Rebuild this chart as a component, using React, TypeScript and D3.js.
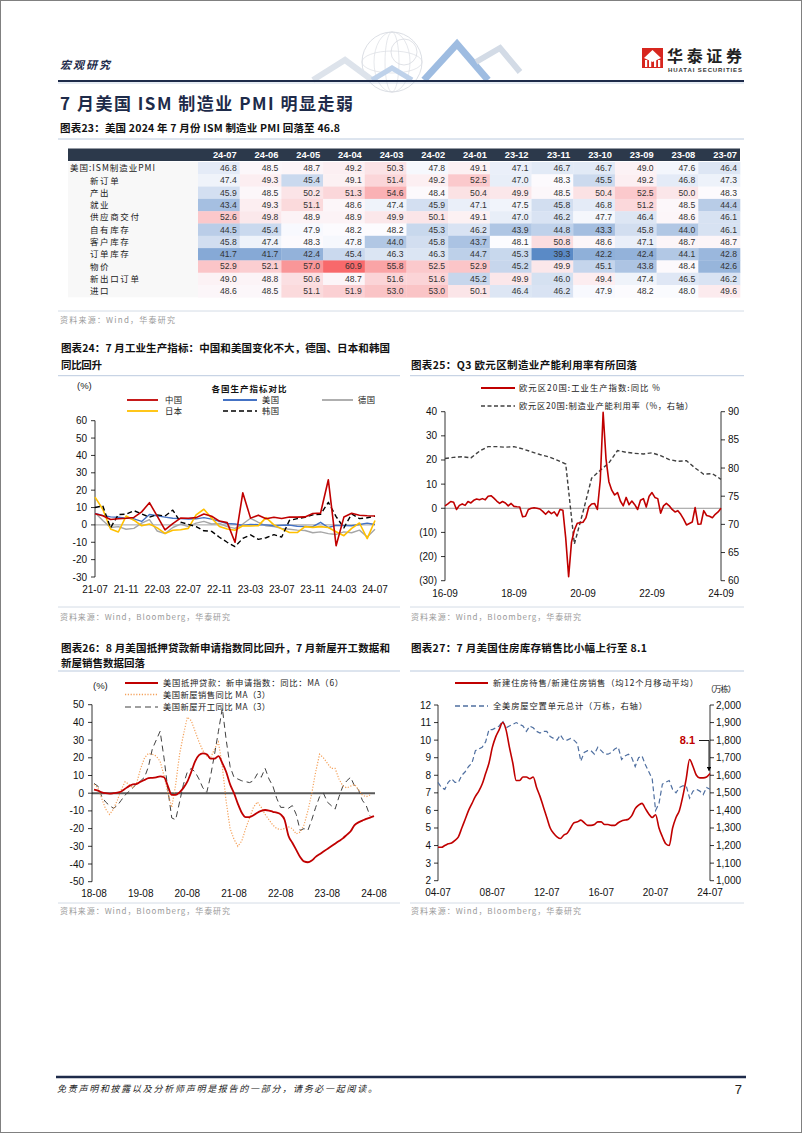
import React from "react";
import * as d3 from "d3";

const CJK = "'Noto Sans CJK SC', 'Noto Sans', sans-serif";
const SANS = "'Liberation Sans', Arial, sans-serif";
const NAVY = "#1E2B4A";
const SRC = "#9A9A9A";

// ---------- Table (Fig 23) ----------
const tableCols = ["24-07", "24-06", "24-05", "24-04", "24-03", "24-02", "24-01", "23-12", "23-11", "23-10", "23-09", "23-08", "23-07"];
const rowLabels = ["美国:ISM制造业PMI", "新订单", "产出", "就业", "供应商交付", "自有库存", "客户库存", "订单库存", "物价", "新出口订单", "进口"];
const rowPMI = [46.8, 48.5, 48.7, 49.2, 50.3, 47.8, 49.1, 47.1, 46.7, 46.7, 49.0, 47.6, 46.4];
const rowNewOrders = [47.4, 49.3, 45.4, 49.1, 51.4, 49.2, 52.5, 47.0, 48.3, 45.5, 49.2, 46.8, 47.3];
const rowOutput = [45.9, 48.5, 50.2, 51.3, 54.6, 48.4, 50.4, 49.9, 48.5, 50.4, 52.5, 50.0, 48.3];
const rowEmployment = [43.4, 49.3, 51.1, 48.6, 47.4, 45.9, 47.1, 47.5, 45.8, 46.8, 51.2, 48.5, 44.4];
const rowDeliveries = [52.6, 49.8, 48.9, 48.9, 49.9, 50.1, 49.1, 47.0, 46.2, 47.7, 46.4, 48.6, 46.1];
const rowInventories = [44.5, 45.4, 47.9, 48.2, 48.2, 45.3, 46.2, 43.9, 44.8, 43.3, 45.8, 44.0, 46.1];
const rowCustInv = [45.8, 47.4, 48.3, 47.8, 44.0, 45.8, 43.7, 48.1, 50.8, 48.6, 47.1, 48.7, 48.7];
const rowBacklog = [41.7, 41.7, 42.4, 45.4, 46.3, 46.3, 44.7, 45.3, 39.3, 42.2, 42.4, 44.1, 42.8];
const rowPrices = [52.9, 52.1, 57.0, 60.9, 55.8, 52.5, 52.9, 45.2, 49.9, 45.1, 43.8, 48.4, 42.6];
const rowExports = [49.0, 48.8, 50.6, 48.7, 51.6, 51.6, 45.2, 49.9, 46.0, 49.4, 47.4, 46.5, 46.2];
const rowImports = [48.6, 48.5, 51.1, 51.9, 53.0, 53.0, 50.1, 46.4, 46.2, 47.9, 48.2, 48.0, 49.6];
const tableRows = [rowPMI, rowNewOrders, rowOutput, rowEmployment, rowDeliveries, rowInventories, rowCustInv, rowBacklog, rowPrices, rowExports, rowImports];

// ---------- Fig 24 ----------
const xTicks24 = ["21-07", "21-11", "22-03", "22-07", "22-11", "23-03", "23-07", "23-11", "24-03", "24-07"];
const yTicks24 = [60, 50, 40, 30, 20, 10, 0, -10, -20, -30];
const china24 = [6.4, 5.3, 3.1, 3.5, 3.8, 4.3, 7.5, 12.8, 5.0, -2.9, 0.7, 3.9, 3.8, 4.2, 6.3, 5.0, 2.2, 1.3, -10.0, 18.5, 3.9, 5.6, 3.5, 4.4, 3.7, 4.5, 4.5, 4.6, 6.6, 6.8, 26.0, -12.0, 4.5, 6.7, 5.6, 5.3, 5.1];
const usa24 = [6.6, 5.5, 4.6, 4.4, 3.9, 3.5, 2.0, 6.0, 5.3, 4.5, 3.8, 3.6, 3.4, 3.5, 4.2, 3.3, 2.0, 0.8, 0.5, -0.3, 0.3, 0.1, 0.0, -0.5, -0.2, -0.1, -0.8, -0.9, -1.0, 1.5, -1.5, -0.3, -0.4, -0.5, 0.2, 1.0, 0.2];
const germany24 = [7.0, 2.5, -1.5, -1.0, -2.5, -2.0, 1.0, 3.0, -3.5, -5.0, -1.5, 0.5, -1.0, 1.0, 2.0, 0.5, 0.8, -1.0, -2.0, 0.5, 3.8, 1.5, -0.5, -1.0, -2.0, -2.5, -3.0, -3.2, -4.5, -4.0, -5.0, -5.5, -4.0, -4.5, -3.0, -7.0, -2.5];
const japan24 = [16.0, 9.0, -2.3, -4.1, 5.1, 2.7, -0.5, 0.5, -1.7, -4.9, -3.1, -2.8, -2.0, 5.8, 9.0, 3.8, -0.9, -2.4, -3.1, -0.5, -0.6, -0.4, 4.2, 0.0, -2.3, -4.4, -4.4, -1.0, -1.4, -1.0, -1.5, -3.9, -6.2, -2.0, 1.1, -7.9, 2.5];
const korea24 = [10.0, 11.0, -1.7, 6.0, 6.2, 8.2, 6.3, 4.5, 5.8, 5.1, 8.5, 1.6, 0.3, -1.0, -3.4, -3.7, -7.1, -10.0, -12.5, -7.8, -5.8, -8.3, -7.4, -5.6, -7.0, 2.6, 3.6, 4.4, 5.8, 6.1, 13.0, 4.8, -1.7, 6.3, 3.6, 4.1, 5.0];

// ---------- Fig 25 ----------
const xTicks25 = ["16-09", "18-09", "20-09", "22-09", "24-09"];
const leftTicks25 = [40, 30, 20, 10, 0, -10, -20, -30];
const rightTicks25 = [90, 85, 80, 75, 70, 65, 60];
const ezIP25 = [1.0, 1.8, 2.8, 2.5, -0.5, 1.2, 1.8, 1.2, 2.8, 2.2, 3.3, 3.8, 3.5, 4.0, 3.5, 5.0, 5.2, 4.2, 3.0, 2.0, 2.8, 2.2, 1.0, 2.0, 0.8, 0.6, 0.5, -3.5, -3.3, -0.5, 0.0, 0.2, 0.0, -0.3, -1.3, -2.5, -1.2, -2.2, -1.5, -3.2, -0.5, -0.8, -12.5, -28.3, -14.0, -9.0, -6.2, -6.0, -5.8, -4.0, 0.5, 1.8, 2.0, -0.5, 11.5, 39.7, 20.5, 11.0, 7.5, 5.5, 6.5, 3.0, 1.0, 4.5, 1.5, 3.0, 1.5, -0.5, 3.3, 4.0, 0.5, 5.0, 6.5, 4.5, 4.0, -2.0, 1.0, 2.0, 1.0, -0.5, -1.5, -1.0, -2.5, -4.5, -6.9, -6.3, -5.7, 0.3, -6.6, -6.5, -1.0, -3.0, -3.3, -3.9, -2.5, -1.5, 0.0];
const ezCU25 = [81.7, 81.9, 82.0, 81.8, 83.0, 83.8, 83.8, 83.7, 83.8, 83.4, 82.9, 82.4, 82.0, 81.4, 80.7, 66.5, 72.2, 78.2, 79.6, 80.9, 83.1, 82.8, 82.6, 82.5, 82.7, 82.2, 81.5, 81.2, 81.3, 80.0, 78.9, 79.0, 78.0];

// ---------- Fig 26 ----------
const xTicks26 = ["18-08", "19-08", "20-08", "21-08", "22-08", "23-08", "24-08"];
const yTicks26 = [50, 40, 30, 20, 10, 0, -10, -20, -30, -40, -50];
const mortgage26 = [2.0, 1.5, 0.5, 0.0, -0.2, 0.0, 0.3, 1.0, 2.5, 4.0, 5.0, 5.3, 6.5, 7.5, 8.5, 8.7, 9.0, 9.5, 9.0, 4.0, -1.0, -1.0, 0.5, 3.0, 6.5, 12.0, 18.0, 21.5, 22.5, 22.0, 19.5, 19.5, 21.0, 17.0, 12.0, 5.0, 0.0, -6.0, -11.0, -13.5, -13.5, -12.5, -11.0, -10.0, -9.5, -9.8, -10.5, -11.0, -12.0, -15.0, -24.0, -28.0, -32.0, -36.0, -38.5, -39.0, -38.0, -36.0, -34.5, -33.0, -31.5, -30.0, -28.5, -27.0, -25.5, -23.5, -21.5, -18.0, -16.5, -15.5, -14.5, -13.8, -13.0];
const homeSales26 = [5, 3, -3, -9, -12, -9, -4, 2, 6.5, 5, 3, 6, 14, 20, 22.5, 22, 21, 18, 10, 0, -8, 5, 22, 33, 43, 41, 35, 29, 24, 21, 20, 25, 29, 15, -5, -20, -26, -30, -27, -20, -14, -8, -5, -8, -12, -15, -18, -20, -20.5, -20, -19, -20, -23, -22, -18, -10, 0, 12, 22, 20, 17, 14, 14, 8, 4, 3, 4, 5, 2, -1, -2, -1];
const starts26 = [5.5, 4, -2, -5, -7, -8.5, -7, -4, -1, 1, 3, 5.5, 7, 9, 15, 25, 30, 35, 20, 2, -14, -15, -5, 5, 12, 14, 12, 8, 3, 0.5, 10, 22, 35, 48, 30, 15, 9, 8, 7, 6.5, 6, 7, 11, 9, 14, 8, 4, -3, -8, -8, -8.5, -7, -12, -21, -20, -21, -15, -8, -2, 0, -5, -7, -9, -2, 4, 7, 9, 4, 2, -4, -7, -13];

// ---------- Fig 27 ----------
const xTicks27 = ["04-07", "08-07", "12-07", "16-07", "20-07", "24-07"];
const leftTicks27 = [12, 11, 10, 9, 8, 7, 6, 5, 4, 3, 2];
const rightTicks27 = [2000, 1900, 1800, 1700, 1600, 1500, 1400, 1300, 1200, 1100, 1000];
const ratio27 = [3.9, 3.9, 4.0, 4.1, 4.15, 4.3, 4.5, 5.0, 5.5, 6.0, 6.4, 6.8, 7.1, 7.5, 8.1, 8.7, 9.6, 10.2, 10.6, 11.0, 10.6, 9.6, 8.7, 7.7, 7.7, 7.9, 7.9, 7.8, 7.9, 7.3, 6.8, 6.2, 5.6, 5.0, 4.7, 4.5, 4.4, 4.6, 4.7, 5.0, 5.3, 5.35, 5.45, 5.3, 5.15, 5.15, 5.2, 5.35, 5.35, 5.2, 5.2, 5.15, 5.15, 5.3, 5.4, 5.45, 5.5, 5.7, 6.1, 6.3, 6.4, 6.1, 5.8, 5.6, 5.75, 5.0, 4.5, 4.1, 4.0, 5.0, 5.6, 6.0, 6.8, 7.8, 8.9, 8.5, 8.0, 7.85, 7.85, 7.9, 8.1];
const vacant27 = [1560, 1530, 1520, 1560, 1580, 1560, 1560, 1600, 1620, 1650, 1670, 1740, 1750, 1760, 1790, 1860, 1860, 1870, 1880, 1910, 1870, 1880, 1890, 1900, 1890, 1880, 1850, 1880, 1870, 1850, 1840, 1850, 1850, 1820, 1810, 1800, 1830, 1800, 1800, 1810, 1800, 1780, 1680, 1730, 1740, 1740, 1720, 1760, 1740, 1720, 1720, 1730, 1750, 1760, 1690, 1710, 1720, 1700, 1650, 1700, 1710, 1660, 1620, 1580, 1400, 1440, 1550, 1560, 1570, 1520, 1500, 1530, 1540, 1540, 1470, 1510, 1520, 1510, 1490, 1530, 1520];

function paren(v: number) {
  return v < 0 ? `(${-v})` : `${v}`;
}

function Title({ x, y, text, w }: { x: number; y: number; text: string; w: number }) {
  return (
    <text x={x} y={y} fontFamily={CJK} fontWeight={700} fontSize={10.5} fill="#111" textLength={w} lengthAdjust="spacing">
      {text}
    </text>
  );
}

function Source({ x, y, text, w }: { x: number; y: number; text: string; w: number }) {
  return (
    <text x={x} y={y} fontFamily={CJK} fontSize={8} fill={SRC} textLength={w} lengthAdjust="spacing">
      {text}
    </text>
  );
}

function Legend({ x, y, text, w }: { x: number; y: number; text: string; w: number }) {
  return (
    <text x={x} y={y} fontFamily={CJK} fontSize={8.3} fill="#222" textLength={w} lengthAdjust="spacing">
      {text}
    </text>
  );
}

function Table() {
  const left = 68, labelW = 130, right = 740;
  const colW = (right - left - labelW) / tableCols.length;
  const hdrTop = 148.5, hdrH = 12.5, rowTop = 162, rowH = 12.3;
  const all = tableRows.flat();
  const ext = d3.extent(all) as [number, number];
  const med = d3.median(all) as number;
  const color = d3.scaleLinear<string>().domain([ext[0], med, ext[1]]).range(["#5A8AC6", "#FCFCFF", "#F8696B"]).interpolate(d3.interpolateRgb);
  const cx = d3.scaleBand<number>().domain(d3.range(tableCols.length)).range([left + labelW, right]).padding(0);
  return (
    <g>
      <rect x={left} y={hdrTop} width={right - left} height={hdrH} fill="#2C394B" />
      {tableCols.map((c, i) => (
        <text key={c} x={(cx(i) as number) + colW - 3} y={hdrTop + 9.6} textAnchor="end" fontFamily={SANS} fontWeight={700} fontSize={9.3} fill="#fff">
          {c}
        </text>
      ))}
      <rect x={left} y={rowTop} width={labelW} height={rowH * rowLabels.length} fill="#F8F8F8" />
      {tableRows.map((row, r) => (
        <g key={r}>
          {row.map((v, i) => (
            <rect key={i} x={cx(i) as number} y={rowTop + r * rowH} width={colW + 0.3} height={rowH + 0.3} fill={color(v)} />
          ))}
          {row.map((v, i) => (
            <text key={"t" + i} x={(cx(i) as number) + colW - 3} y={rowTop + r * rowH + 9} textAnchor="end" fontFamily={SANS} fontSize={8.6} fill="#333">
              {v.toFixed(1)}
            </text>
          ))}
          {r === 0 ? (
            <text x={70} y={rowTop + 9.2} fontFamily={CJK} fontSize={8.5} fill="#222" textLength={85} lengthAdjust="spacing">
              {rowLabels[r]}
            </text>
          ) : (
            <text x={90} y={rowTop + r * rowH + 9.2} fontFamily={CJK} fontSize={8.5} fill="#222" letterSpacing={1.6}>
              {rowLabels[r]}
            </text>
          )}
        </g>
      ))}
    </g>
  );
}

function Chart24() {
  const x = d3.scaleLinear().domain([0, china24.length - 1]).range([95, 375]);
  const y = d3.scaleLinear().domain([-30, 60]).range([577, 420.7]);
  const line = d3.line<number>().x((_, i) => x(i)).y((d) => y(d));
  const series = [
    { data: germany24, color: "#A6A6A6", w: 1.4, dash: undefined as string | undefined },
    { data: usa24, color: "#4472C4", w: 1.4, dash: undefined },
    { data: japan24, color: "#FFC000", w: 1.6, dash: undefined },
    { data: korea24, color: "#000", w: 1.4, dash: "5,3" },
    { data: china24, color: "#C00000", w: 1.6, dash: undefined },
  ];
  return (
    <g>
      <text x={77} y={389} fontFamily={SANS} fontSize={9.5} fill="#222">(%)</text>
      <text x={249} y={392} textAnchor="middle" fontFamily={CJK} fontWeight={700} fontSize={8.5} fill="#111" textLength={75} lengthAdjust="spacing">各国生产指标对比</text>
      <line x1={127} x2={158} y1={400} y2={400} stroke="#C00000" strokeWidth={1.8} />
      <Legend x={165} y={403} text="中国" w={17} />
      <line x1={223} x2={257} y1={400} y2={400} stroke="#4472C4" strokeWidth={1.8} />
      <Legend x={262} y={403} text="美国" w={17} />
      <line x1={322} x2={353} y1={400} y2={400} stroke="#A6A6A6" strokeWidth={1.8} />
      <Legend x={358} y={403} text="德国" w={17} />
      <line x1={127} x2={158} y1={411} y2={411} stroke="#FFC000" strokeWidth={1.8} />
      <Legend x={165} y={414} text="日本" w={17} />
      <line x1={223} x2={257} y1={411} y2={411} stroke="#000" strokeWidth={1.6} strokeDasharray="5,3" />
      <Legend x={262} y={414} text="韩国" w={17} />
      <line x1={95} x2={375} y1={y(0)} y2={y(0)} stroke="#A0A0A0" strokeWidth={1} />
      <line x1={95} x2={95} y1={y(60)} y2={y(-30)} stroke="#000" strokeWidth={0.8} />
      {yTicks24.map((t) => (
        <g key={t}>
          <line x1={91} x2={95} y1={y(t)} y2={y(t)} stroke="#000" strokeWidth={0.8} />
          <text x={87} y={y(t) + 3.5} textAnchor="end" fontFamily={SANS} fontSize={10} fill="#111">{t}</text>
        </g>
      ))}
      {xTicks24.map((t, k) => (
        <text key={t} x={x(k * 4)} y={593} textAnchor="middle" fontFamily={SANS} fontSize={10} fill="#111">{t}</text>
      ))}
      {series.map((s, i) => (
        <path key={i} d={line(s.data) as string} fill="none" stroke={s.color} strokeWidth={s.w} strokeDasharray={s.dash} strokeLinejoin="round" />
      ))}
    </g>
  );
}

function Chart25() {
  const x = d3.scaleLinear().domain([0, 96]).range([445, 721]);
  const yL = d3.scaleLinear().domain([-30, 40]).range([580.7, 411.7]);
  const yR = d3.scaleLinear().domain([60, 90]).range([580.7, 411.7]);
  const redLine = d3.line<number>().x((_, i) => x(i)).y((d) => yL(d));
  const dashLine = d3.line<number>().x((_, i) => x(i * 3)).y((d) => yR(d));
  return (
    <g>
      <line x1={481} x2={515} y1={388} y2={388} stroke="#C00000" strokeWidth={1.8} />
      <Legend x={519} y={391} text="欧元区20国:工业生产指数:同比 %" w={141} />
      <line x1={481} x2={515} y1={406} y2={406} stroke="#404040" strokeWidth={1.4} strokeDasharray="4,2.5" />
      <Legend x={519} y={409} text="欧元区20国:制造业产能利用率（%，右轴）" w={174} />
      <line x1={445} x2={721} y1={yL(0)} y2={yL(0)} stroke="#808080" strokeWidth={0.8} />
      <line x1={445} x2={445} y1={yL(40)} y2={yL(-30)} stroke="#000" strokeWidth={0.8} />
      <line x1={721} x2={721} y1={yR(90)} y2={yR(60)} stroke="#000" strokeWidth={0.8} />
      {leftTicks25.map((t) => (
        <g key={t}>
          <line x1={441} x2={445} y1={yL(t)} y2={yL(t)} stroke="#000" strokeWidth={0.8} />
          <text x={437} y={yL(t) + 3.5} textAnchor="end" fontFamily={SANS} fontSize={10} fill="#111">{paren(t)}</text>
        </g>
      ))}
      {rightTicks25.map((t) => (
        <g key={t}>
          <line x1={721} x2={725} y1={yR(t)} y2={yR(t)} stroke="#000" strokeWidth={0.8} />
          <text x={728} y={yR(t) + 3.5} fontFamily={SANS} fontSize={10} fill="#111">{t}</text>
        </g>
      ))}
      {xTicks25.map((t, k) => (
        <text key={t} x={x(k * 24)} y={597} textAnchor="middle" fontFamily={SANS} fontSize={10} fill="#111">{t}</text>
      ))}
      <path d={dashLine(ezCU25) as string} fill="none" stroke="#404040" strokeWidth={1.4} strokeDasharray="4,2.5" />
      <path d={redLine(ezIP25) as string} fill="none" stroke="#C00000" strokeWidth={1.6} strokeLinejoin="round" />
    </g>
  );
}

function Chart26() {
  const x = d3.scaleLinear().domain([0, 72]).range([94, 374]);
  const y = d3.scaleLinear().domain([-50, 50]).range([881.7, 704.7]);
  const line = d3.line<number>().x((_, i) => x(i)).y((d) => y(d)).curve(d3.curveMonotoneX);
  const lineStraight = d3.line<number>().x((_, i) => x(i)).y((d) => y(d));
  return (
    <g>
      <text x={93} y={689} fontFamily={SANS} fontSize={9.5} fill="#222">(%)</text>
      <line x1={125} x2={158} y1={683} y2={683} stroke="#C00000" strokeWidth={1.8} />
      <Legend x={163} y={686} text="美国抵押贷款：新申请指数：同比：MA（6）" w={180} />
      <line x1={125} x2={158} y1={694.5} y2={694.5} stroke="#F4A15A" strokeWidth={1.3} strokeDasharray="1.2,1.6" />
      <Legend x={163} y={697.5} text="美国新屋销售同比 MA（3）" w={107} />
      <line x1={125} x2={158} y1={707} y2={707} stroke="#404040" strokeWidth={1} strokeDasharray="6,4" />
      <Legend x={163} y={710} text="美国新屋开工同比 MA（3）" w={107} />
      <line x1={92} x2={375} y1={y(0)} y2={y(0)} stroke="#595959" strokeWidth={2} />
      <line x1={92} x2={92} y1={y(50)} y2={y(-50)} stroke="#000" strokeWidth={0.8} />
      {yTicks26.map((t) => (
        <g key={t}>
          <line x1={88} x2={92} y1={y(t)} y2={y(t)} stroke="#000" strokeWidth={0.8} />
          <text x={84} y={y(t) + 3.5} textAnchor="end" fontFamily={SANS} fontSize={10} fill="#111">{t}</text>
        </g>
      ))}
      {xTicks26.map((t, k) => (
        <text key={t} x={x(k * 12)} y={897} textAnchor="middle" fontFamily={SANS} fontSize={10} fill="#111">{t}</text>
      ))}
      <path d={lineStraight(starts26) as string} fill="none" stroke="#404040" strokeWidth={1} strokeDasharray="6,4" />
      <path d={lineStraight(homeSales26) as string} fill="none" stroke="#F4A15A" strokeWidth={1.2} strokeDasharray="1.2,1.6" />
      <path d={line(mortgage26) as string} fill="none" stroke="#C00000" strokeWidth={1.8} />
    </g>
  );
}

function Chart27() {
  const x = d3.scaleLinear().domain([0, 80]).range([438, 710]);
  const yL = d3.scaleLinear().domain([2, 12]).range([880.7, 705]);
  const yR = d3.scaleLinear().domain([1000, 2000]).range([880.7, 705]);
  const red = d3.line<number>().x((_, i) => x(i)).y((d) => yL(d)).curve(d3.curveMonotoneX);
  const dash = d3.line<number>().x((_, i) => x(i)).y((d) => yR(d));
  const fmt = d3.format(",");
  const last = ratio27[ratio27.length - 1];
  const ex = x(ratio27.length - 1);
  return (
    <g>
      <defs>
        <marker id="arr27" viewBox="0 0 6 6" refX={5} refY={3} markerWidth={5} markerHeight={5} orient="auto">
          <path d="M0,0 L6,3 L0,6 z" fill="#000" />
        </marker>
      </defs>
      <line x1={455} x2={488} y1={683} y2={683} stroke="#C00000" strokeWidth={1.8} />
      <Legend x={493} y={686} text="新建住房待售/新建住房销售（均12个月移动平均）" w={205} />
      <Legend x={706} y={692} text="（万栋）" w={30} />
      <line x1={455} x2={488} y1={706} y2={706} stroke="#4F6FA0" strokeWidth={1.3} strokeDasharray="5,3" />
      <Legend x={493} y={709} text="全美房屋空置单元总计（万栋，右轴）" w={154} />
      <line x1={438} x2={438} y1={yL(12)} y2={yL(2)} stroke="#000" strokeWidth={0.8} />
      <line x1={710} x2={710} y1={yR(2000)} y2={yR(1000)} stroke="#000" strokeWidth={0.8} />
      {leftTicks27.map((t) => (
        <g key={t}>
          <line x1={434} x2={438} y1={yL(t)} y2={yL(t)} stroke="#000" strokeWidth={0.8} />
          <text x={431} y={yL(t) + 3.5} textAnchor="end" fontFamily={SANS} fontSize={10} fill="#111">{t}</text>
        </g>
      ))}
      {rightTicks27.map((t) => (
        <g key={t}>
          <line x1={710} x2={714} y1={yR(t)} y2={yR(t)} stroke="#000" strokeWidth={0.8} />
          <text x={716} y={yR(t) + 3.5} fontFamily={SANS} fontSize={10} fill="#111">{fmt(t)}</text>
        </g>
      ))}
      {xTicks27.map((t, k) => (
        <text key={t} x={x(k * 16)} y={896} textAnchor="middle" fontFamily={SANS} fontSize={10} fill="#111">{t}</text>
      ))}
      <path d={dash(vacant27) as string} fill="none" stroke="#4F6FA0" strokeWidth={1.2} strokeDasharray="5,3" />
      <path d={red(ratio27) as string} fill="none" stroke="#C00000" strokeWidth={1.6} />
      <text x={695} y={744} textAnchor="end" fontFamily={SANS} fontWeight={700} fontSize={11} fill="#C00000">{last.toFixed(1)}</text>
      <path d={`M699,740.5 L${ex - 1},740.5 L${ex - 1},${yL(last) - 3}`} fill="none" stroke="#000" strokeWidth={0.9} markerEnd="url(#arr27)" />
    </g>
  );
}

function Header() {
  return (
    <g>
      {/* decorative globe */}
      <g>
        <circle cx={392} cy={62} r={30} fill="none" stroke="#D2D6DD" strokeWidth={0.8} />
        <ellipse cx={392} cy={62} rx={18} ry={30} fill="none" stroke="#DADDE3" strokeWidth={0.7} />
        <ellipse cx={392} cy={62} rx={7} ry={30} fill="none" stroke="#DADDE3" strokeWidth={0.7} />
        <ellipse cx={392} cy={62} rx={30} ry={11} fill="none" stroke="#DADDE3" strokeWidth={0.7} />
        <circle cx={404} cy={52} r={13} fill="none" stroke="#D2D6DD" strokeWidth={0.7} />
        <polyline points="313,80 345,60 372,80" fill="none" stroke="#DDE3EB" strokeWidth={6} />
        <polyline points="372,80 392,68 412,80" fill="none" stroke="#BFD2EA" strokeWidth={5} />
        <polyline points="424,80 457,44 488,80" fill="none" stroke="#8DB0DC" strokeWidth={7} opacity={0.85} />
        <polyline points="476,62 500,48 520,72" fill="none" stroke="#D3DBE6" strokeWidth={6} />
      </g>
      <text x={60} y={69} fontFamily={CJK} fontWeight={700} fontStyle="italic" fontSize={11} fill={NAVY} textLength={50} lengthAdjust="spacing">宏观研究</text>
      {/* logo */}
      <rect x={642} y={48} width={21} height={20} fill="#D7261E" />
      <path d="M652.5,50 L661,58 L652.5,62 L644,58 Z" fill="#fff" />
      <rect x={645} y={60} width={2.2} height={7} fill="#fff" />
      <rect x={649} y={59} width={2.2} height={8} fill="#fff" />
      <rect x={654} y={59} width={2.2} height={8} fill="#fff" />
      <rect x={658} y={60} width={2.2} height={7} fill="#fff" />
      <text x={667} y={62} fontFamily={CJK} fontWeight={700} fontSize={16} fill="#222" textLength={75} lengthAdjust="spacing">华泰证券</text>
      <text x={668} y={71.5} fontFamily={SANS} fontWeight={700} fontSize={6} fill="#333" textLength={74} lengthAdjust="spacing">HUATAI SECURITIES</text>
      <line x1={58} x2={744} y1={81} y2={81} stroke={NAVY} strokeWidth={2} />
      <line x1={58} x2={744} y1={83} y2={83} stroke="#A9BCD6" strokeWidth={0.6} />
      <text x={60} y={110} fontFamily={CJK} fontWeight={700} fontSize={17} fill={NAVY} textLength={293} lengthAdjust="spacing">7 月美国 ISM 制造业 PMI 明显走弱</text>
    </g>
  );
}

export default function App() {
  return (
    <svg width={802} height={1133} viewBox="0 0 802 1133" style={{ position: "absolute", left: 0, top: 0, background: "#fff" }} xmlns="http://www.w3.org/2000/svg">
      <rect x={0} y={0} width={802} height={1133} fill="#fff" />
      <Header />
      <Title x={60} y={132} text="图表23：美国 2024 年 7 月份 ISM 制造业 PMI 回落至 46.8" w={280} />
      <line x1={58} x2={744} y1={139} y2={139} stroke="#A9BCD6" strokeWidth={0.8} />
      <Table />
      <line x1={58} x2={744} y1={311} y2={311} stroke="#C9D3E0" strokeWidth={0.8} />
      <Source x={60} y={323} text="资料来源：Wind，华泰研究" w={115} />

      <Title x={61} y={352} text="图表24：7 月工业生产指标：中国和美国变化不大，德国、日本和韩国" w={329} />
      <Title x={61} y={369} text="同比回升" w={41} />
      <line x1={58} x2={400} y1={375.7} y2={375.7} stroke="#A9BCD6" strokeWidth={0.8} />
      <Title x={411} y={369} text="图表25：Q3 欧元区制造业产能利用率有所回落" w={226} />
      <line x1={410} x2={744} y1={375.7} y2={375.7} stroke="#A9BCD6" strokeWidth={0.8} />
      <Chart24 />
      <Chart25 />
      <line x1={58} x2={400} y1={607} y2={607} stroke="#C9D3E0" strokeWidth={0.8} />
      <line x1={410} x2={744} y1={607} y2={607} stroke="#C9D3E0" strokeWidth={0.8} />
      <Source x={60} y={620} text="资料来源：Wind，Bloomberg，华泰研究" w={170} />
      <Source x={411} y={620} text="资料来源：Wind，Bloomberg，华泰研究" w={170} />

      <Title x={61} y={652} text="图表26：8 月美国抵押贷款新申请指数同比回升，7 月新屋开工数据和" w={329} />
      <Title x={61} y={667} text="新屋销售数据回落" w={84} />
      <line x1={58} x2={400} y1={671} y2={671} stroke="#A9BCD6" strokeWidth={0.8} />
      <Title x={411} y={652} text="图表27：7 月美国住房库存销售比小幅上行至 8.1" w={236} />
      <line x1={410} x2={744} y1={671} y2={671} stroke="#A9BCD6" strokeWidth={0.8} />
      <Chart26 />
      <Chart27 />
      <line x1={58} x2={400} y1={903} y2={903} stroke="#C9D3E0" strokeWidth={0.8} />
      <line x1={410} x2={744} y1={903} y2={903} stroke="#C9D3E0" strokeWidth={0.8} />
      <Source x={60} y={914} text="资料来源：Wind，Bloomberg，华泰研究" w={170} />
      <Source x={411} y={914} text="资料来源：Wind，Bloomberg，华泰研究" w={170} />

      <line x1={56} x2={746} y1={1077} y2={1077} stroke={NAVY} strokeWidth={2.5} />
      <text x={57} y={1092} fontFamily={CJK} fontStyle="italic" fontSize={9} fill="#222" textLength={320} lengthAdjust="spacing">免责声明和披露以及分析师声明是报告的一部分，请务必一起阅读。</text>
      <text x={742} y={1094} textAnchor="end" fontFamily={SANS} fontSize={13} fill="#222">7</text>
      <rect x={0.5} y={0.5} width={801} height={1132} fill="none" stroke="#808080" strokeWidth={1} />
    </svg>
  );
}
